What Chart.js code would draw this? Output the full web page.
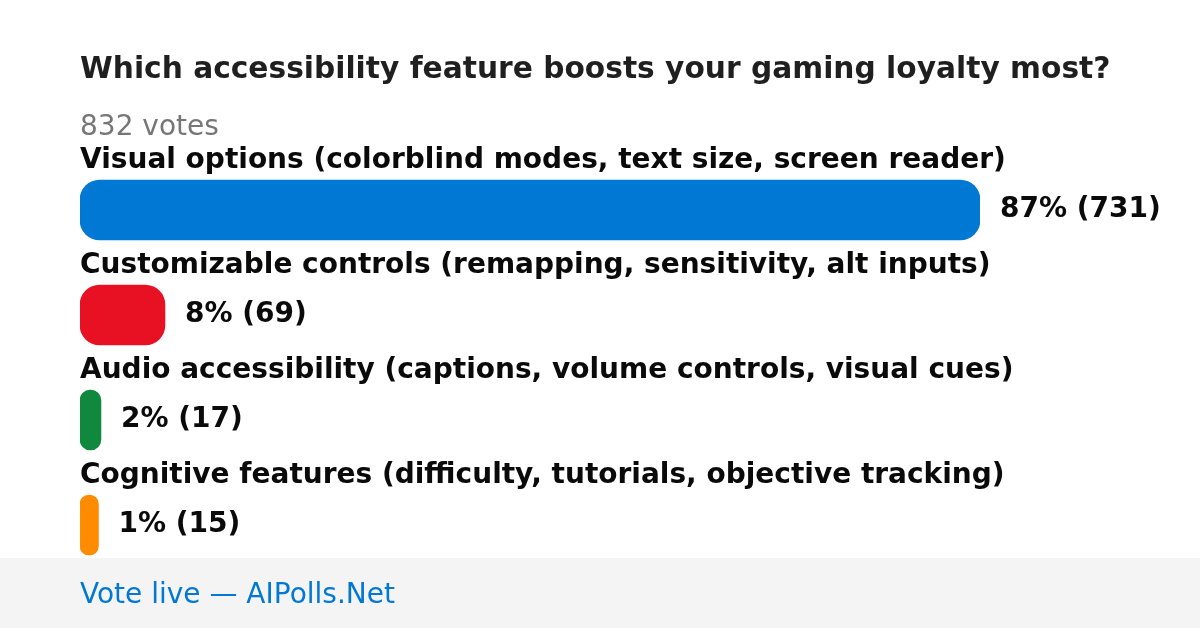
<!DOCTYPE html>
<html>
<head>
<meta charset="utf-8">
<script src="https://cdn.jsdelivr.net/npm/chart.js@4"></script>
<style>
  html, body { margin: 0; padding: 0; background: #fff; }
  canvas { display: block; }
</style>
</head>
<body>
<canvas id="poll" width="1200" height="628"></canvas>
<script>
const title = 'Which accessibility feature boosts your gaming loyalty most?';
const totalLabel = '832 votes';
const footerText = 'Vote live \u2014 AIPolls.Net';

const options = [
  'Visual options (colorblind modes, text size, screen reader)',
  'Customizable controls (remapping, sensitivity, alt inputs)',
  'Audio accessibility (captions, volume controls, visual cues)',
  'Cognitive features (difficulty, tutorials, objective tracking)'
];
const votes = [731, 69, 17, 15];
const percents = ['87%', '8%', '2%', '1%'];
const colors = ['#0078d4', '#e81123', '#10893e', '#ff8c00'];

const FONT = '"DejaVu Sans", sans-serif';

const pollText = {
  id: 'pollText',
  beforeDraw(chart) {
    const { ctx } = chart;
    ctx.save();
    ctx.fillStyle = '#f4f4f4';
    ctx.fillRect(0, 558, chart.width, chart.height - 558);
    ctx.restore();
  },
  afterDatasetsDraw(chart) {
    const { ctx } = chart;
    const meta = chart.getDatasetMeta(0);
    ctx.save();
    ctx.textAlign = 'left';
    ctx.textBaseline = 'alphabetic';

    ctx.fillStyle = '#1f1f1f';
    ctx.font = 'bold 29.7px ' + FONT;
    ctx.fillText(title, 80, 78);

    ctx.fillStyle = '#767676';
    ctx.font = '28px ' + FONT;
    ctx.fillText(totalLabel, 80, 135);

    meta.data.forEach((bar, i) => {
      const top = bar.y - bar.height / 2;
      ctx.fillStyle = '#0a0a0a';
      ctx.font = 'bold 28px ' + FONT;
      ctx.textBaseline = 'alphabetic';
      ctx.fillText(options[i], 80, top - 12);

      ctx.textBaseline = 'middle';
      ctx.fillText(percents[i] + ' (' + votes[i] + ')', bar.x + 20, bar.y);
    });

    ctx.fillStyle = '#0078d4';
    ctx.font = '28px ' + FONT;
    ctx.textBaseline = 'alphabetic';
    ctx.fillText(footerText, 80, 603);
    ctx.restore();
  }
};

new Chart(document.getElementById('poll'), {
  type: 'bar',
  data: {
    labels: options,
    datasets: [{
      data: votes,
      backgroundColor: colors,
      borderRadius: 20,
      borderSkipped: false,
      barThickness: 60
    }]
  },
  options: {
    indexAxis: 'y',
    responsive: false,
    animation: false,
    layout: { padding: { left: 80, right: 220, top: 157.5, bottom: 50.5 } },
    scales: {
      x: { display: false, min: 0, max: votes[0] },
      y: { display: false }
    },
    plugins: {
      legend: { display: false },
      tooltip: { enabled: false }
    }
  },
  plugins: [pollText]
});
</script>
</body>
</html>
